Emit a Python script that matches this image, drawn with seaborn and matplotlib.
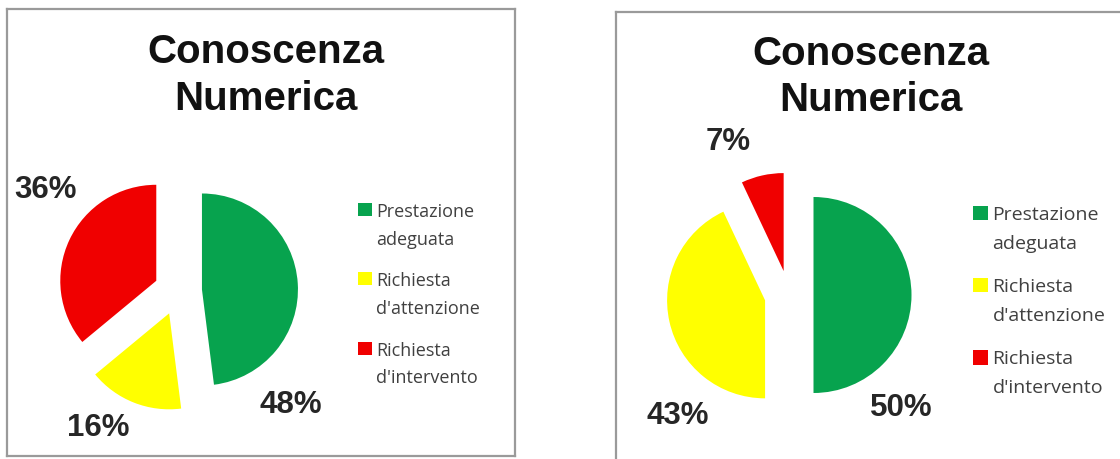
import numpy as np
import seaborn as sns
import matplotlib.pyplot as plt
import matplotlib as mpl

# ---- data ----
categories = ["Prestazione\nadeguata", "Richiesta\nd'attenzione", "Richiesta\nd'intervento"]
left_values = [48, 16, 36]
right_values = [50, 43, 7]
chart_title = "Conoscenza\nNumerica"
colors = ["#07a34e", "#ffff00", "#f00000"]

W, H = 1120, 459
sns.set_theme(style="white")
mpl.rcParams['font.family'] = ['Liberation Sans', 'DejaVu Sans']

fig = plt.figure(figsize=(W / 100, H / 100), dpi=100)
fig.patch.set_facecolor("white")


def px(x, y):
    # pixel (top-down) -> figure fraction
    return x / W, 1 - y / H


def pie_panel(box, centre, radius, values, title_xy, label_xy, legend_xy,
              leg_size, leg_spacing, leg_linespacing):
    x0, y0, x1, y1 = box
    ax = fig.add_axes([x0 / W, 1 - y1 / H, (x1 - x0) / W, (y1 - y0) / H])
    wedges, _ = ax.pie(values, colors=colors, startangle=90, counterclock=False,
                       explode=[0.25] * len(values), radius=1,
                       wedgeprops=dict(linewidth=0))
    ax.set_aspect("auto")
    cx, cy = centre
    ax.set_xlim((x0 - cx) / radius, (x1 - cx) / radius)
    ax.set_ylim((cy - y1) / radius, (cy - y0) / radius)
    ax.set_frame_on(True)
    ax.set_xticks([])
    ax.set_yticks([])
    for s in ax.spines.values():
        s.set_color("#9a9a9a")
        s.set_linewidth(1.6)

    fig.text(*px(*title_xy), chart_title, ha="center", va="center",
             fontsize=29, fontweight="bold", color="#111111", linespacing=1.27)

    for v, (lx, ly) in zip(values, label_xy):
        fig.text(*px(lx, ly), f"{v}%", ha="center", va="center",
                 fontsize=22.5, fontweight="bold", color="#262626")

    leg = ax.legend(wedges, categories, loc="upper left",
                    bbox_to_anchor=px(*legend_xy), bbox_transform=fig.transFigure,
                    frameon=False, handlelength=0.75, handleheight=0.75,
                    handletextpad=0.25, labelspacing=leg_spacing, borderpad=0,
                    borderaxespad=0,
                    prop={"family": "Open Sans", "size": leg_size})
    for t in leg.get_texts():
        t.set_linespacing(leg_linespacing)
        t.set_color("#404040")
    # put the colour square next to the first line of each entry
    for col in leg._legend_handle_box.get_children():
        for item in col.get_children():
            item.align = "top"
    return ax


pie_panel(box=(7, 9, 515, 456), centre=(178, 291), radius=96,
          values=left_values, title_xy=(266, 75.5),
          label_xy=[(291, 405), (98, 428), (46, 190)],
          legend_xy=(358, 203), leg_size=13, leg_spacing=1.3,
          leg_linespacing=1.7)

pie_panel(box=(616, 12, 1130, 470), centre=(789, 295), radius=98,
          values=right_values, title_xy=(871, 77),
          label_xy=[(901, 408), (678, 416), (728, 142)],
          legend_xy=(973, 206), leg_size=14, leg_spacing=1.3,
          leg_linespacing=1.78)

fig.savefig("out.png", dpi=100, facecolor="white")
